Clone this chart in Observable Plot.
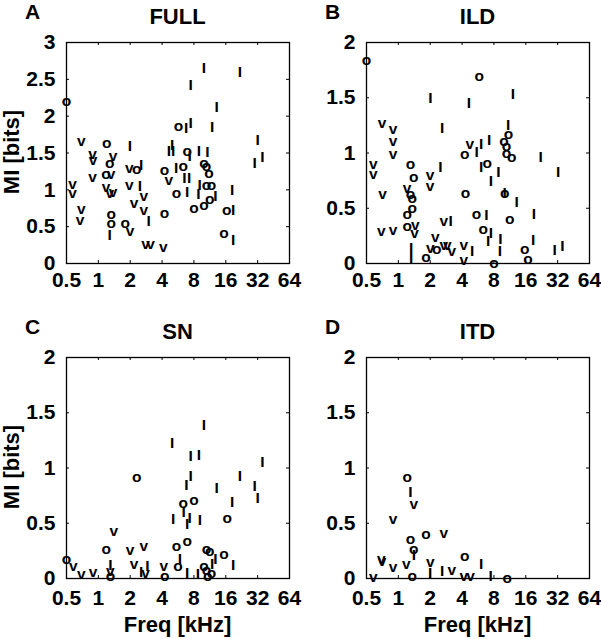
<!DOCTYPE html>
<html><head><meta charset="utf-8">
<script src="https://cdn.jsdelivr.net/npm/d3@7"></script>
<script src="https://cdn.jsdelivr.net/npm/@observablehq/plot@0.6"></script>
<style>
body{margin:0;background:#fff;}
#root{position:relative;width:601px;height:639px;overflow:hidden;background:#fff;font-family:"Liberation Sans",Arial,sans-serif;}
.lbl{position:absolute;font-weight:bold;color:#000;white-space:nowrap;line-height:1;}
.pnl{position:absolute;}
</style></head><body><div id="root"></div>
<script>
// ---- axis ticks ----
const xTicks = [0.5, 1, 2, 4, 8, 16, 32, 64];
const yTicksFull = [0, 0.5, 1, 1.5, 2, 2.5, 3];
const yTicksOther = [0, 0.5, 1, 1.5, 2];

// ---- panel A: FULL ----
const fullSym  = ["o","I","I","I","I","o","I","I","I","I","I","I","v","o","I","v","v","v","o","I","I","I","o","I","I","I","o","v","o","I","o","I","o","I","I","o","o","v","o","v","v","v","v","v","v","v","v","I","o","I","I","I","o","o","I","v","v","v","I","o","I","o","o","o","I","o","v","v","o","o","I","o","v","v","v","v","o","I"];
const fullFreq = [0.5,9.95,21.8,7.44,13.1,5.73,6.77,7.44,11.9,32,35.4,30,0.69,1.2,1.99,0.88,0.89,1.38,1.28,4.99,4.64,5.1,6.9,8.9,10.7,7.3,9.95,1.96,2.3,2.54,4.22,5.44,6.34,6.5,7.2,10.5,11.1,4.64,1.18,1.32,0.88,0.57,0.57,1.18,1.28,1.38,1.96,2.47,5.47,6.9,8.8,9.05,10.5,11.7,18.4,2.69,2.17,2.69,2.98,11.3,12.8,9.95,8,16.3,18.8,4.22,0.69,0.67,1.32,1.32,1.28,1.79,1.99,2.79,3.12,4.1,15.4,18.8];
const fullMI   = [2.21,2.65,2.60,2.42,2.13,1.86,1.84,1.91,1.85,1.68,1.45,1.36,1.66,1.64,1.59,1.49,1.41,1.46,1.37,1.61,1.53,1.53,1.53,1.53,1.51,1.46,1.36,1.30,1.28,1.33,1.27,1.29,1.32,1.16,1.16,1.32,1.23,1.13,1.22,1.22,1.17,1.08,0.95,1.04,0.95,0.97,1.07,1.05,0.95,0.97,0.94,1.07,1.06,1.06,1.0,0.91,0.82,0.73,0.58,0.87,0.91,0.80,0.75,0.73,0.73,0.69,0.74,0.59,0.67,0.55,0.38,0.55,0.44,0.26,0.26,0.23,0.41,0.32];

// ---- panel B: ILD ----
const ildSym  = ["o","o","I","I","I","v","v","v","v","I","I","o","o","o","o","o","v","I","I","I","o","I","v","v","o","o","v","v","I","I","o","I","I","I","v","v","o","o","o","o","I","I","o","o","o","I","I","o","v","I","o","v","v","v","v","o","I","I","I","I","I","v","I","I","o","v","o","v","v","v","v","I","v","o","o","o","I","I"];
const ildFreq = [0.5,5.8,2.01,4.64,12.1,0.70,0.89,0.89,0.89,2.6,10.9,11,9.95,10.5,10.5,11.8,4.74,6.07,7.2,5.5,4.25,22.1,0.58,0.58,1.3,1.4,1.99,1.99,2.5,6.07,6.9,8.8,7.5,32.3,0.71,1.21,1.3,1.35,4.3,10.1,10.1,13.1,1.35,1.21,5.47,6.8,19.1,11.3,2.69,3.12,1.21,1.45,1.42,0.69,0.89,6.34,7.5,7.05,9.2,9.1,18.8,2.24,1.32,1.32,1.82,2.0,2.3,2.69,2.9,3.2,4.16,4.99,4.16,8,15.6,16.8,30,35.4];
const ildMI   = [1.84,1.70,1.50,1.45,1.53,1.27,1.22,1.11,0.99,1.23,1.25,1.17,1.11,1.06,1.0,0.96,1.08,1.08,1.12,1.01,0.99,0.96,0.90,0.81,0.90,0.78,0.80,0.70,0.87,0.87,0.91,0.83,0.75,0.83,0.63,0.68,0.63,0.59,0.64,0.64,0.64,0.56,0.50,0.45,0.45,0.44,0.45,0.40,0.38,0.38,0.34,0.35,0.28,0.29,0.30,0.31,0.28,0.20,0.22,0.11,0.21,0.24,0.14,0.05,0.06,0.14,0.13,0.17,0.17,0.11,0.17,0.11,0.03,0.0,0.13,0.04,0.12,0.16];

// ---- panel C: SN ----
const snSym  = ["I","I","I","I","I","o","I","I","I","I","I","I","o","o","I","I","o","I","I","I","I","v","o","o","v","v","o","o","o","o","o","v","v","v","I","v","o","v","I","I","v","v","o","o","I","I","I","o","o","I","I","o","o","I"];
const snFreq = [9.95,4.99,7.44,8.9,35.4,2.3,7.44,6.8,21.8,30,32,13.1,6.34,8,18.4,6.4,16.5,5.1,7.3,9.1,6.9,1.4,6.9,1.19,1.99,2.69,5.47,10.5,11.3,15.4,0.5,0.58,0.69,0.89,1.3,1.3,1.3,2.17,2.54,2.9,2.8,4.16,4.25,5.65,5.9,6.9,8.7,9.95,10.5,11.9,12.8,10.8,11.7,18.8];
const snMI   = [1.39,1.23,1.11,1.12,1.05,0.92,0.93,0.85,0.93,0.84,0.73,0.82,0.68,0.71,0.69,0.60,0.55,0.54,0.55,0.53,0.49,0.43,0.34,0.27,0.26,0.29,0.29,0.27,0.25,0.22,0.18,0.11,0.04,0.06,0.12,0.07,0.02,0.13,0.06,0.11,0.05,0.11,0.02,0.11,0.18,0.05,0.04,0.11,0.08,0.13,0.18,0.02,0.05,0.12];

// ---- panel D: ITD ----
const itdSym  = ["o","I","v","v","o","v","o","o","I","o","v","v","v","v","v","I","I","v","v","v","I","o","v","I","o"];
const itdFreq = [1.21,1.3,1.4,0.89,1.82,2.69,1.3,1.4,1.4,4.25,0.69,0.7,0.89,1.19,2.0,2.0,2.6,3.2,4.16,4.8,6.07,1.35,0.58,7.44,10.7];
const itdMI   = [0.92,0.78,0.67,0.54,0.40,0.41,0.36,0.27,0.21,0.20,0.18,0.16,0.10,0.13,0.15,0.05,0.07,0.08,0.02,0.02,0.13,0.02,0.01,0.02,0.0];

const FONT = '"Liberation Sans", Arial, Helvetica, sans-serif';
const root = document.getElementById("root");

function label(text, css) {
  const d = document.createElement("div");
  d.className = "lbl";
  d.textContent = text;
  Object.assign(d.style, css);
  root.appendChild(d);
}

function panel(o) {
  const data = o.sym.map((s, i) => ({s, f: o.freq[i], m: o.mi[i]}));
  const H = 300, mT = 42, mB = 37, mL = 66, mR = o.width - 289;
  const plotW = o.width - mL - mR, plotH = H - mT - mB;
  const tk = 3;
  const chart = Plot.plot({
    width: o.width, height: H,
    marginTop: mT, marginBottom: mB, marginLeft: mL, marginRight: mR,
    style: {background: "transparent", color: "black", fontFamily: FONT, fontSize: "21px", overflow: "visible"},
    x: {type: "log", base: 2, domain: [0.5, 64]},
    y: {domain: [0, o.yMax]},
    marks: [
      Plot.axisX(xTicks, {tickSize: 0, tickPadding: o.xPad, tickFormat: d => String(d), label: null, fontSize: 21, fontWeight: "bold", fontFamily: FONT}),
      Plot.axisY(o.yTicks, {tickSize: 0, tickPadding: 11, tickFormat: d => String(d), label: null, fontSize: 21, fontWeight: "bold", fontFamily: FONT}),
      Plot.tickX(xTicks, {x: d => d, insetTop: plotH - tk, stroke: "black"}),
      Plot.tickX(xTicks, {x: d => d, insetBottom: plotH - tk, stroke: "black"}),
      Plot.tickY(o.yTicks, {y: d => d, insetLeft: plotW - tk, stroke: "black"}),
      Plot.tickY(o.yTicks, {y: d => d, insetRight: plotW - tk, stroke: "black"}),
      Plot.text(data, {x: "f", y: "m", text: "s", fontSize: 15.5, fontWeight: "bold", fontFamily: FONT, fill: "black"}),
      Plot.frame({stroke: "black", strokeWidth: 1.3})
    ]
  });
  chart.classList.add("pnl");
  chart.style.left = o.left + "px";
  chart.style.top = o.top + "px";
  root.appendChild(chart);

  const cx = o.left + mL + plotW / 2;
  label(o.letter, {left: (o.left + 25) + "px", top: (o.top + 0.7) + "px", fontSize: "21px"});
  label(o.title, {left: cx + "px", top: (o.top + 6.4) + "px", fontSize: "22px", transform: "translateX(-50%)"});
  if (o.yLabel) {
    label("MI [bits]", {left: "12px", top: (o.top + 152) + "px", fontSize: "22px", transform: "translate(-50%,-50%) rotate(-90deg)"});
  }
  if (o.xLabel) {
    label("Freq [kHz]", {left: cx + "px", top: "614.4px", fontSize: "22px", transform: "translateX(-50%)"});
  }
}

panel({sym: fullSym, freq: fullFreq, mi: fullMI, yMax: 3, yTicks: yTicksFull, left: 0, top: 0, width: 300, title: "FULL", letter: "A", yLabel: true, xLabel: false, xPad: 9});
panel({sym: ildSym, freq: ildFreq, mi: ildMI, yMax: 2, yTicks: yTicksOther, left: 300, top: 0, width: 301, title: "ILD", letter: "B", yLabel: false, xLabel: false, xPad: 9});
panel({sym: snSym, freq: snFreq, mi: snMI, yMax: 2, yTicks: yTicksOther, left: 0, top: 315, width: 300, title: "SN", letter: "C", yLabel: true, xLabel: true, xPad: 12});
panel({sym: itdSym, freq: itdFreq, mi: itdMI, yMax: 2, yTicks: yTicksOther, left: 300, top: 315, width: 301, title: "ITD", letter: "D", yLabel: false, xLabel: true, xPad: 12});
</script></body></html>
